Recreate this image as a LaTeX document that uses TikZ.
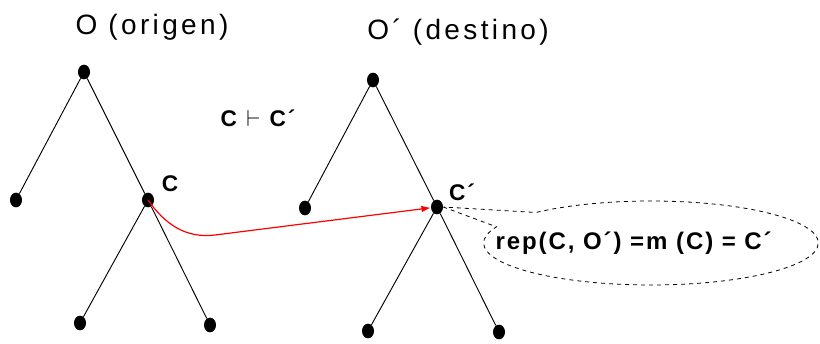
\documentclass[tikz,border=0pt]{standalone}
\usepackage{fontspec}
\setmainfont{Liberation Sans}
\newfontfamily\titlefont[LetterSpace=12]{Liberation Sans}
\newfontfamily\lblfont[LetterSpace=8]{Liberation Sans}
\usetikzlibrary{shapes.geometric,shapes.callouts,arrows.meta}

\begin{document}
\begin{tikzpicture}[
  x=0.75pt, y=0.75pt,
  dot/.style={ellipse, fill, inner sep=0pt, minimum width=9pt, minimum height=11pt},
  title/.style={font=\titlefont\fontsize{21}{24}\selectfont, inner sep=0pt},
  lbl/.style={font=\lblfont\bfseries\fontsize{17}{20}\selectfont, inner sep=0pt},
  edge/.style={line width=0.7pt},
  mapto/.style={red, line width=0.9pt, -{Latex[length=7pt,width=5pt]}}]
  \useasboundingbox (0,0) rectangle (820,343);
  % titles
  \node[title] (torig) at (152,316) {O (origen)};
  \node[title] (tdest) at (458,311) {O´ (destino)};
  % source tree O
  \node[dot] (r1) at (84,271) {};
  \node[dot] (l1) at (16,143) {};
  \node[dot] (c)  at (148,143) {};
  \node[dot] (l2) at (80,20) {};
  \node[dot] (l3) at (210,18) {};
  % target tree O'
  \node[dot] (r2) at (373,263) {};
  \node[dot] (l4) at (305,135) {};
  \node[dot] (c2) at (437,136) {};
  \node[dot] (l5) at (368,12) {};
  \node[dot] (l6) at (499,11) {};
  \foreach \a/\b in {r1/l1, r1/c, c/l2, c/l3, r2/l4, r2/c2, c2/l5, c2/l6}
    \draw[edge] (\a) -- (\b);
  % labels
  \node[lbl] (lc)  at (170,159) {C};
  \node[lbl] (lc2) at (462,151) {C´};
  \node[lbl] (rel) at (258,225) {C\hspace{7pt}$\vdash$\hspace{7pt}C´};
  % mapping
  \coordinate (bend) at (215,108);
  \draw[mapto] (c.center) to[out=-55, in=187] (bend) -- (c2);
  \node[ellipse callout, draw, dashed, line width=0.6pt, minimum width=251pt, minimum height=63pt,
        callout absolute pointer={(c2.east)}, callout pointer arc=24, inner sep=0pt] (rep) at (651,100) {};
  \node[lbl, font=\lblfont\bfseries\fontsize{18}{20}\selectfont, xshift=-13pt] (reptxt) at (rep.center)
    {rep(C, O´) =m (C) = C´};
\end{tikzpicture}
\end{document}
